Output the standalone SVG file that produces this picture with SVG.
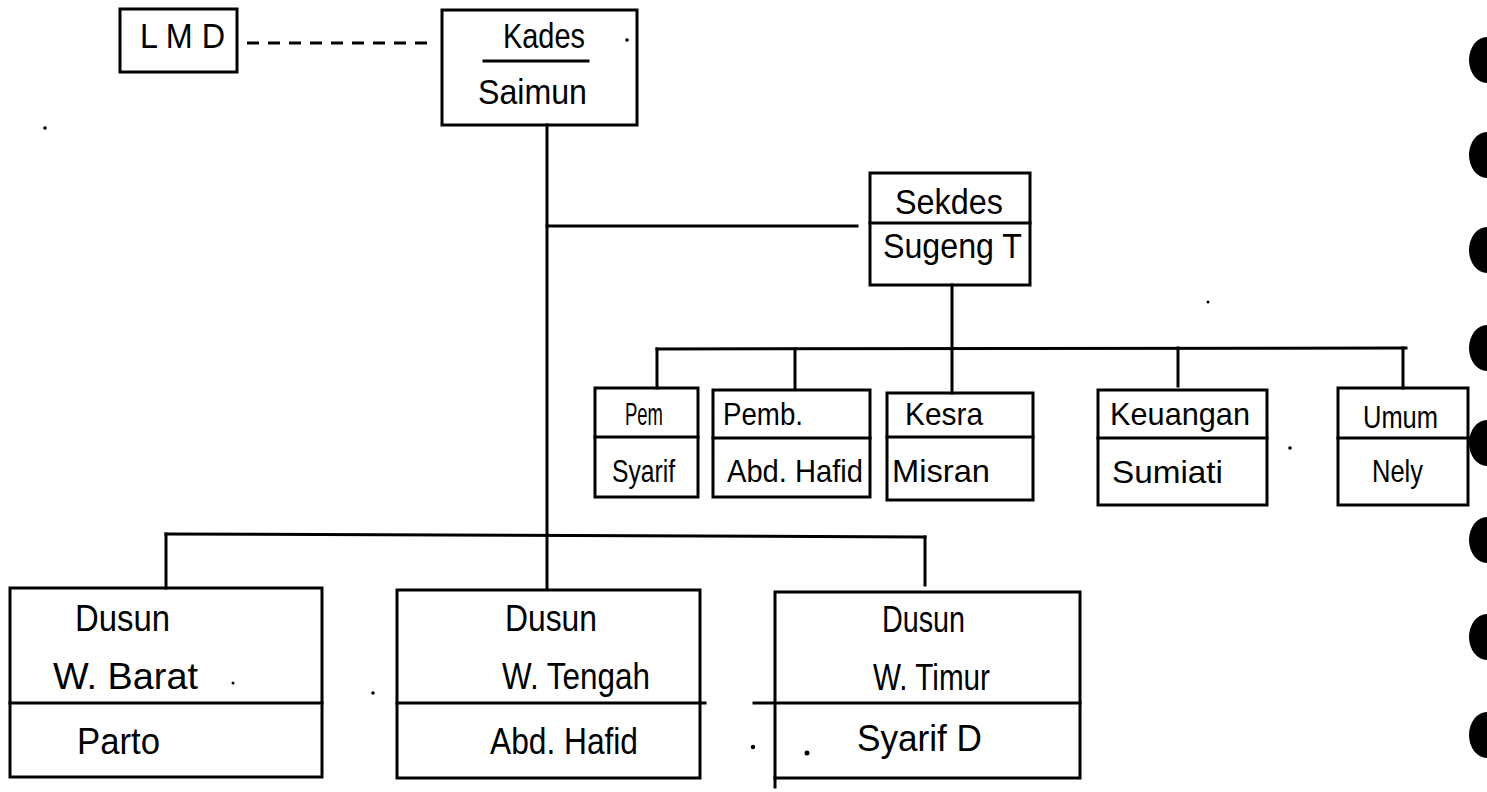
<svg xmlns="http://www.w3.org/2000/svg" width="1487" height="792" viewBox="0 0 1487 792">
<style>
  .bg { fill: #ffffff; }
  .box { fill: none; stroke: #000; stroke-width: 3; stroke-linejoin: miter; }
  .ln { fill: none; stroke: #000; stroke-width: 3; stroke-linecap: square; }
  .dash { fill: none; stroke: #000; stroke-width: 3; stroke-dasharray: 12 9; }
  .t { font-family: 'Liberation Sans Narrow', 'Liberation Sans', sans-serif; fill: #000; }
  .big { font-size: 35px; }
  .mid { font-size: 32px; }
  .dus { font-size: 36px; }
  .speck { fill: #000; }
  .hole { fill: #000; }
</style>
<rect class="bg" x="0" y="0" width="1487" height="792"/>

<g id="connectors">
  <line class="dash" x1="247" y1="43" x2="432" y2="43"/>
  <line class="ln" x1="547" y1="125" x2="547" y2="588"/>
  <line class="ln" x1="547" y1="226" x2="857" y2="226"/>
  <line class="ln" x1="952" y1="285" x2="952" y2="393"/>
  <line class="ln" x1="657" y1="349" x2="1406" y2="348"/>
  <line class="ln" x1="657" y1="349" x2="657" y2="388"/>
  <line class="ln" x1="795" y1="349" x2="795" y2="388"/>
  <line class="ln" x1="1178" y1="348" x2="1178" y2="386"/>
  <line class="ln" x1="1403" y1="348" x2="1403" y2="388"/>
  <line class="ln" x1="166" y1="534" x2="925" y2="537"/>
  <line class="ln" x1="166" y1="534" x2="166" y2="588"/>
  <line class="ln" x1="925" y1="537" x2="925" y2="585"/>
</g>

<g id="lmd">
  <rect class="box" x="120" y="9" width="117" height="63"/>
  <text class="t" x="140" y="48" font-size="35" textLength="85" lengthAdjust="spacingAndGlyphs">L M D</text>
</g>

<g id="kades">
  <rect class="box" x="442" y="10" width="195" height="115"/>
  <text class="t big" x="503" y="48" textLength="82" lengthAdjust="spacingAndGlyphs">Kades</text>
  <line class="ln" x1="484" y1="61" x2="588" y2="61"/>
  <text class="t big" x="478" y="104" textLength="109" lengthAdjust="spacingAndGlyphs">Saimun</text>
</g>

<g id="sekdes">
  <rect class="box" x="870" y="173" width="160" height="112"/>
  <line class="ln" x1="870" y1="223" x2="1030" y2="223"/>
  <text class="t big" x="895" y="214" textLength="108" lengthAdjust="spacingAndGlyphs">Sekdes</text>
  <text class="t big" x="883" y="258" textLength="139" lengthAdjust="spacingAndGlyphs">Sugeng T</text>
</g>

<g id="pem">
  <rect class="box" x="595" y="388" width="103" height="109"/>
  <line class="ln" x1="595" y1="437" x2="698" y2="437"/>
  <text class="t mid" x="625" y="425" textLength="38" lengthAdjust="spacingAndGlyphs">Pem</text>
  <text class="t mid" x="612" y="482" textLength="63" lengthAdjust="spacingAndGlyphs">Syarif</text>
</g>

<g id="pemb">
  <rect class="box" x="713" y="390" width="157" height="107"/>
  <line class="ln" x1="713" y1="438" x2="870" y2="438"/>
  <text class="t mid" x="723" y="425" textLength="80" lengthAdjust="spacingAndGlyphs">Pemb.</text>
  <text class="t mid" x="727" y="482" textLength="136" lengthAdjust="spacingAndGlyphs">Abd. Hafid</text>
</g>

<g id="kesra">
  <rect class="box" x="887" y="393" width="146" height="107"/>
  <line class="ln" x1="887" y1="437" x2="1033" y2="437"/>
  <text class="t mid" x="905" y="425" textLength="78" lengthAdjust="spacingAndGlyphs">Kesra</text>
  <text class="t mid" x="892" y="482" textLength="98" lengthAdjust="spacingAndGlyphs">Misran</text>
</g>

<g id="keuangan">
  <rect class="box" x="1098" y="390" width="169" height="115"/>
  <line class="ln" x1="1098" y1="438" x2="1267" y2="438"/>
  <text class="t mid" x="1110" y="425" textLength="140" lengthAdjust="spacingAndGlyphs">Keuangan</text>
  <text class="t mid" x="1112" y="483" textLength="111" lengthAdjust="spacingAndGlyphs">Sumiati</text>
</g>

<g id="umum">
  <rect class="box" x="1338" y="388" width="130" height="117"/>
  <line class="ln" x1="1338" y1="438" x2="1484" y2="438"/>
  <text class="t mid" x="1363" y="428" textLength="75" lengthAdjust="spacingAndGlyphs">Umum</text>
  <text class="t mid" x="1372" y="482" textLength="51" lengthAdjust="spacingAndGlyphs">Nely</text>
</g>

<g id="dusun-barat">
  <rect class="box" x="10" y="588" width="312" height="189"/>
  <line class="ln" x1="10" y1="703" x2="322" y2="703"/>
  <text class="t dus" x="75" y="631" textLength="95" lengthAdjust="spacingAndGlyphs">Dusun</text>
  <text class="t dus" x="53" y="689" textLength="145" lengthAdjust="spacingAndGlyphs">W. Barat</text>
  <text class="t dus" x="77" y="754" textLength="83" lengthAdjust="spacingAndGlyphs">Parto</text>
</g>

<g id="dusun-tengah">
  <rect class="box" x="397" y="590" width="303" height="188"/>
  <line class="ln" x1="397" y1="703" x2="705" y2="703"/>
  <text class="t dus" x="505" y="631" textLength="92" lengthAdjust="spacingAndGlyphs">Dusun</text>
  <text class="t dus" x="502" y="689" textLength="148" lengthAdjust="spacingAndGlyphs">W. Tengah</text>
  <text class="t dus" x="490" y="754" textLength="148" lengthAdjust="spacingAndGlyphs">Abd. Hafid</text>
</g>

<g id="dusun-timur">
  <rect class="box" x="775" y="592" width="305" height="186"/>
  <line class="ln" x1="754" y1="703" x2="1080" y2="703"/>
  <line class="ln" x1="775" y1="778" x2="775" y2="787"/>
  <text class="t dus" x="882" y="632" textLength="83" lengthAdjust="spacingAndGlyphs">Dusun</text>
  <text class="t dus" x="873" y="690" textLength="117" lengthAdjust="spacingAndGlyphs">W. Timur</text>
  <text class="t dus" x="857" y="751" textLength="125" lengthAdjust="spacingAndGlyphs">Syarif D</text>
</g>

<g id="specks">
  <circle class="speck" cx="45" cy="128" r="1.8"/>
  <circle class="speck" cx="627" cy="40" r="1.8"/>
  <circle class="speck" cx="1290" cy="448" r="1.8"/>
  <circle class="speck" cx="1208" cy="302" r="1.5"/>
  <circle class="speck" cx="233" cy="683" r="1.5"/>
  <circle class="speck" cx="373" cy="693" r="1.8"/>
  <circle class="speck" cx="753" cy="747" r="2.2"/>
  <circle class="speck" cx="807" cy="753" r="2.5"/>
</g>

<g id="binder-holes">
  <ellipse class="hole" cx="1487" cy="60" rx="18" ry="23"/>
  <ellipse class="hole" cx="1487" cy="155" rx="18" ry="23"/>
  <ellipse class="hole" cx="1487" cy="250" rx="18" ry="23"/>
  <ellipse class="hole" cx="1487" cy="348" rx="18" ry="23"/>
  <ellipse class="hole" cx="1487" cy="443" rx="18" ry="23"/>
  <ellipse class="hole" cx="1487" cy="540" rx="18" ry="23"/>
  <ellipse class="hole" cx="1487" cy="637" rx="18" ry="23"/>
  <ellipse class="hole" cx="1487" cy="735" rx="18" ry="23"/>
</g>
</svg>
